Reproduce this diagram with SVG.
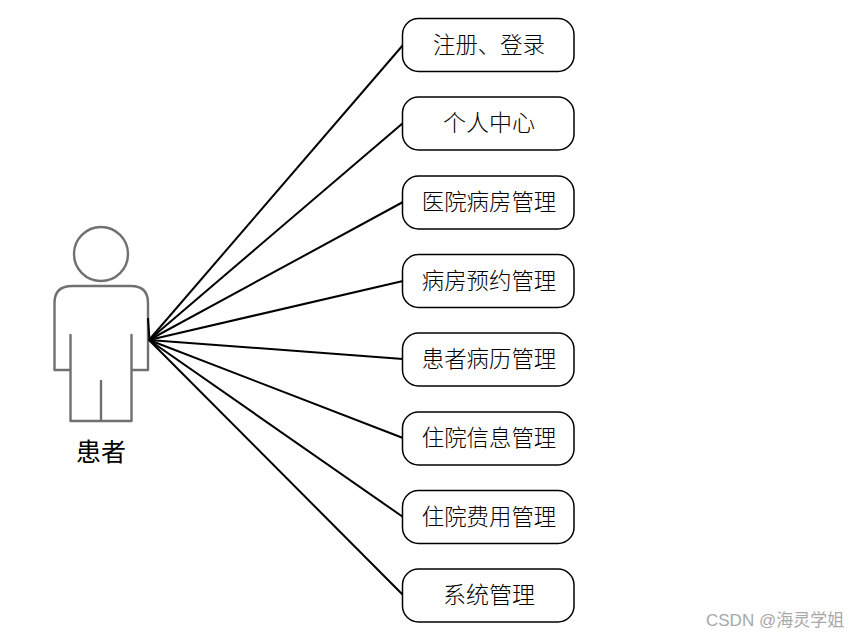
<svg xmlns="http://www.w3.org/2000/svg" width="858" height="638" viewBox="0 0 858 638">
<style>
.box{fill:#fff;stroke:#000;stroke-width:1.5}
.t{font-family:"Noto Sans CJK SC","Liberation Serif",serif;font-size:22.400px;text-anchor:middle;fill:#000;font-weight:300}
.c line{stroke:#000;stroke-width:2}
.a{fill:none;stroke:#707070;stroke-width:2.400;stroke-linecap:round;stroke-linejoin:round}
</style>
<rect width="858" height="638" fill="#fff"/>
<g id="actor">
<circle class="a" cx="101" cy="254" r="27"/>
<path class="a" d="M70.500 370H54.500V303Q54.500 286 72 286H131Q148 286 148 303V370H131.500M70.500 335V421H131.500V335M101 381V421"/>
<text x="101" y="461" style="font-family:'Noto Sans CJK SC',sans-serif;font-size:25px;text-anchor:middle;fill:#000">患者</text>
</g>
<g id="connectors" class="c">
<line x1="149" y1="340" x2="403" y2="45"/>
<line x1="149" y1="340" x2="403" y2="123"/>
<line x1="149" y1="340" x2="403" y2="202"/>
<line x1="149" y1="340" x2="403" y2="281"/>
<line x1="149" y1="340" x2="403" y2="359"/>
<line x1="149" y1="340" x2="403" y2="438"/>
<line x1="149" y1="340" x2="403" y2="517"/>
<line x1="149" y1="340" x2="403" y2="595"/>
<path d="M148 318L149.500 340" stroke="#000" stroke-width="2" fill="none"/>
</g>
<g id="n1"><rect class="box" x="402.500" y="18.500" width="171.500" height="53" rx="16"/><text class="t" x="489" y="52.500">注册、登录</text></g>
<g id="n2"><rect class="box" x="402.500" y="97" width="171.500" height="53" rx="16"/><text class="t" x="489" y="130.500" style="font-size:23px">个人中心</text></g>
<g id="n3"><rect class="box" x="402.500" y="176" width="171.500" height="53" rx="16"/><text class="t" x="489" y="209.500">医院病房管理</text></g>
<g id="n4"><rect class="box" x="402.500" y="254.500" width="171.500" height="53" rx="16"/><text class="t" x="489" y="288.500">病房预约管理</text></g>
<g id="n5"><rect class="box" x="402.500" y="333" width="171.500" height="53" rx="16"/><text class="t" x="489" y="366.500">患者病历管理</text></g>
<g id="n6"><rect class="box" x="402.500" y="412" width="171.500" height="53" rx="16"/><text class="t" x="489" y="445.500">住院信息管理</text></g>
<g id="n7"><rect class="box" x="402.500" y="490.500" width="171.500" height="53" rx="16"/><text class="t" x="489" y="524.500">住院费用管理</text></g>
<g id="n8"><rect class="box" x="402.500" y="569" width="171.500" height="53" rx="16"/><text class="t" x="489" y="602.500" style="font-size:23px">系统管理</text></g>
<text x="706" y="626" style="font-family:'Liberation Sans','Noto Sans CJK SC',sans-serif;font-size:17px;fill:#a8a8a8">CSDN @海灵学姐</text>
</svg>
